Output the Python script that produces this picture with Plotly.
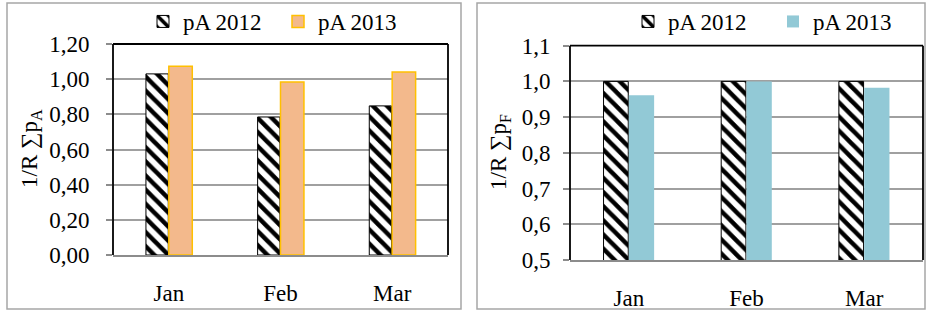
import plotly.graph_objects as go

months = ["Jan", "Feb", "Mar"]
left_2012 = [1.03, 0.785, 0.848]
left_2013 = [1.073, 0.984, 1.041]
right_2012 = [1.0, 1.0, 1.0]
right_2013 = [0.961, 1.0, 0.982]
series_names = ["pA 2012", "pA 2013"]
left_yticks = [0.0, 0.2, 0.4, 0.6, 0.8, 1.0, 1.2]
right_yticks = [0.5, 0.6, 0.7, 0.8, 0.9, 1.0, 1.1]

W, H = 926, 311
FONT = "Liberation Serif, Times New Roman, DejaVu Serif, serif"
FS = 23
GRID = "#a0a0a0"

def px(x):
    return x / W

def py(y):
    return 1 - y / H

hatch = dict(shape="\\", fgcolor="black", bgcolor="white", size=10, solidity=0.45, fillmode="replace")

fig = go.Figure()
fig.add_trace(go.Bar(x=months, y=left_2012, name=series_names[0], xaxis="x", yaxis="y",
                     width=0.2, offset=-0.205,
                     marker=dict(color="white", pattern=hatch, line=dict(color="black", width=1)),
                     legend="legend"))
fig.add_trace(go.Bar(x=months, y=left_2013, name=series_names[1], xaxis="x", yaxis="y",
                     width=0.21, offset=0.0,
                     marker=dict(color="#f3b98c", line=dict(color="#ffc000", width=1.5)),
                     legend="legend"))
fig.add_trace(go.Bar(x=months, y=right_2012, name=series_names[0], xaxis="x2", yaxis="y2",
                     width=0.21, offset=-0.215,
                     marker=dict(color="white", pattern=hatch, line=dict(color="black", width=1)),
                     legend="legend2"))
fig.add_trace(go.Bar(x=months, y=right_2013, name=series_names[1], xaxis="x2", yaxis="y2",
                     width=0.215, offset=0.0,
                     marker=dict(color="#92c9d6", line=dict(color="#92c9d6", width=0)),
                     legend="legend2"))

common_x = dict(showgrid=False, showline=True, linecolor="#8c8c8c", linewidth=1.5,
                ticks="", ticklabelstandoff=17, tickfont=dict(family=FONT, size=FS, color="black"),
                fixedrange=True, automargin=False)
common_y = dict(showgrid=True, gridcolor=GRID, gridwidth=1.5, showline=False, zeroline=False,
                ticks="outside", ticklen=6, tickcolor="#8c8c8c", tickwidth=1.5,
                tickfont=dict(family=FONT, size=FS, color="black"), fixedrange=True, automargin=False)

fig.update_layout(
    width=W, height=H, margin=dict(l=0, r=0, t=0, b=0, autoexpand=False),
    paper_bgcolor="white", plot_bgcolor="white",
    separators=",.",
    barmode="overlay",
    xaxis=dict(domain=[px(113), px(448)], anchor="y", **common_x),
    yaxis=dict(domain=[py(255), py(44)], anchor="x", range=[0, 1.2], tickvals=left_yticks,
               tickformat=".2f", ticklabelstandoff=12, **common_y),
    xaxis2=dict(domain=[px(570), px(923)], anchor="y2", **common_x),
    yaxis2=dict(domain=[py(260), py(45.7)], anchor="x2", range=[0.5, 1.1], tickvals=right_yticks,
                tickformat=".1f", ticklabelstandoff=8, **common_y),
    legend=dict(orientation="h", x=px(143), y=1, xanchor="left", yanchor="top",
                font=dict(family=FONT, size=FS, color="black"), entrywidth=90,
                bgcolor="rgba(0,0,0,0)", traceorder="normal"),
    legend2=dict(orientation="h", x=px(628), y=1, xanchor="left", yanchor="top",
                 font=dict(family=FONT, size=FS, color="black"), entrywidth=100,
                 bgcolor="rgba(0,0,0,0)", traceorder="normal"),
)

shapes = []
# outer chart borders
shapes.append(dict(type="rect", xref="paper", yref="paper", x0=px(7), x1=px(461), y0=py(309), y1=py(3),
                   line=dict(color="#a6a6a6", width=1.5), layer="below"))
shapes.append(dict(type="rect", xref="paper", yref="paper", x0=px(477), x1=px(925), y0=py(309), y1=py(3),
                   line=dict(color="#a6a6a6", width=1.5), layer="below"))
# plot area frames (left, top, right)
for xa, ya in (("x", "y"), ("x2", "y2")):
    xr, yr = xa + " domain", ya + " domain"
    for (x0, y0, x1, y1) in ((0, 0, 0, 1), (0, 1, 1, 1), (1, 0, 1, 1)):
        shapes.append(dict(type="line", xref=xr, yref=yr, x0=x0, y0=y0, x1=x1, y1=y1,
                           line=dict(color="black", width=1.8), layer="above"))
fig.update_layout(shapes=shapes)

fig.add_annotation(text="1/R ∑p<sub>A</sub>", xref="paper", yref="paper", x=px(31), y=py(149),
                   xanchor="center", yanchor="middle", textangle=-90, showarrow=False,
                   font=dict(family=FONT, size=FS, color="black"))
fig.add_annotation(text="1/R ∑p<sub>F</sub>", xref="paper", yref="paper", x=px(500), y=py(152),
                   xanchor="center", yanchor="middle", textangle=-90, showarrow=False,
                   font=dict(family=FONT, size=FS, color="black"))

fig.write_html("out.html", config={"displayModeBar": False},
               post_script="document.body.style.margin='0';document.body.style.overflow='hidden';")
